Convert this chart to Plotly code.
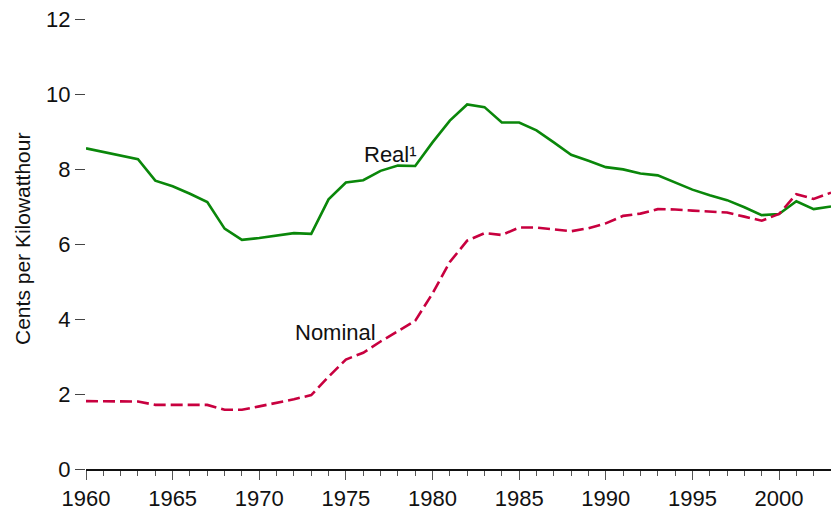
import plotly.graph_objects as go

years = list(range(1960, 2004))

real = [8.55, 8.45, 8.34, 8.26, 7.69, 7.54, 7.34, 7.12, 6.41, 6.11,
        6.16, 6.22, 6.29, 6.27, 7.19, 7.64, 7.70, 7.95, 8.09, 8.08,
        8.71, 9.29, 9.72, 9.65, 9.24, 9.24, 9.03, 8.71, 8.38, 8.22,
        8.05, 7.99, 7.88, 7.83, 7.65, 7.45, 7.30, 7.17, 6.98, 6.77,
        6.80, 7.14, 6.93, 7.00]

nominal = [1.81, 1.80, 1.80, 1.80, 1.71, 1.71, 1.71, 1.71, 1.58, 1.58,
           1.67, 1.76, 1.86, 1.97, 2.46, 2.92, 3.10, 3.40, 3.67, 3.95,
           4.68, 5.52, 6.09, 6.29, 6.24, 6.44, 6.44, 6.38, 6.34, 6.42,
           6.55, 6.75, 6.81, 6.93, 6.92, 6.89, 6.86, 6.84, 6.73, 6.62,
           6.80, 7.33, 7.20, 7.37]

y_ticks = [0, 2, 4, 6, 8, 10, 12]
x_ticks = [1960, 1965, 1970, 1975, 1980, 1985, 1990, 1995, 2000]

fig = go.Figure()
fig.add_trace(go.Scatter(x=years, y=real, mode="lines", name="Real",
                         line=dict(color="#0a870a", width=2.6)))
fig.add_trace(go.Scatter(x=years, y=nominal, mode="lines", name="Nominal",
                         line=dict(color="#c8003f", width=2.6, dash="12px,5px")))

font = "Liberation Sans, Arial, sans-serif"

fig.add_annotation(x=1977.6, y=8.39, text="Real¹", showarrow=False,
                   font=dict(family=font, size=22, color="#111"))
fig.add_annotation(x=1974.4, y=3.64, text="Nominal", showarrow=False,
                   font=dict(family=font, size=22, color="#111"))
fig.add_annotation(x=-0.086, y=0.511, xref="paper", yref="paper",
                   xanchor="center", yanchor="middle",
                   text="Cents per Kilowatthour", textangle=-90, showarrow=False,
                   font=dict(family=font, size=21, color="#111"))

fig.update_layout(
    width=831, height=511,
    margin=dict(l=86, r=0, t=19, b=39),
    paper_bgcolor="white", plot_bgcolor="white",
    showlegend=False,
    font=dict(family=font, size=22, color="#111"),
    xaxis=dict(range=[1960, 2003], tickvals=x_ticks, ticks="outside", ticklen=9,
               tickwidth=1.3, tickcolor="#555", showgrid=False, zeroline=False,
               showline=True, linecolor="#111", linewidth=2,
               minor=dict(dtick=1, tick0=1960, ticks="outside", ticklen=5,
                          tickwidth=1.2, tickcolor="#555", showgrid=False),
               tickfont=dict(size=22)),
    yaxis=dict(range=[0, 12], tickvals=y_ticks, ticks="outside", ticklen=10,
               tickwidth=1.2, tickcolor="#444", showgrid=False, zeroline=False,
               showline=False, tickfont=dict(size=22),
               ticklabeloverflow="allow"),
)

fig.write_html("out.html",
               config={"displayModeBar": False},
               post_script="document.body.style.margin='0';"
                           "document.body.style.overflow='hidden';")
